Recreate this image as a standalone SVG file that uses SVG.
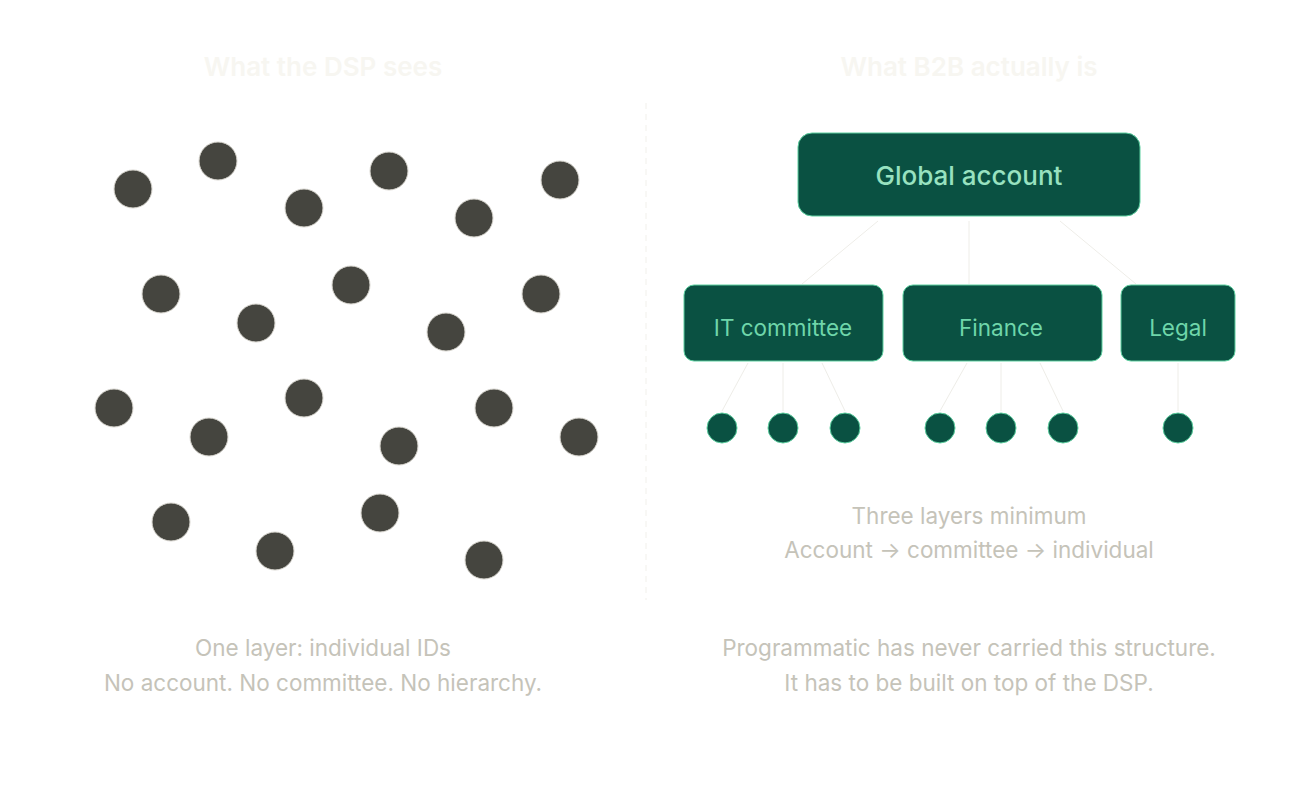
<svg xmlns="http://www.w3.org/2000/svg" width="1292" height="798" viewBox="0 0 1292 798">
<style>
.title{font-family:Inter,"Liberation Sans",sans-serif;font-size:26px;font-weight:600;fill:#f7f6f1;text-anchor:middle}
.cap{font-family:Inter,"Liberation Sans",sans-serif;font-size:22.5px;fill:#c5c3b9;text-anchor:middle}
.id{fill:#45453f;stroke:#d8d6cf;stroke-width:1}
.box{fill:#0a5142;stroke:#5ccf9f;stroke-width:1}
.gtext{font-family:Inter,"Liberation Sans",sans-serif;font-size:26px;font-weight:500;fill:#98e2c0;text-anchor:middle}
.ctext{font-family:Inter,"Liberation Sans",sans-serif;font-size:22.5px;fill:#6fd6aa;text-anchor:middle}
.dot{fill:#0a5142;stroke:#5ccf9f;stroke-width:1}
.link{stroke:#eeede8;stroke-width:1;fill:none}
</style>
<rect width="1292" height="798" fill="#ffffff"/>
<text class="title" x="323" y="76">What the DSP sees</text>
<text class="title" x="969" y="76">What B2B actually is</text>
<line x1="646" y1="103" x2="646" y2="600" stroke="#f1f0eb" stroke-width="1" stroke-dasharray="6 5"/>
<g id="ids">
<circle class="id" cx="133" cy="189" r="19"/>
<circle class="id" cx="218" cy="161" r="19"/>
<circle class="id" cx="304" cy="208" r="19"/>
<circle class="id" cx="389" cy="171" r="19"/>
<circle class="id" cx="474" cy="218" r="19"/>
<circle class="id" cx="560" cy="180" r="19"/>
<circle class="id" cx="161" cy="294" r="19"/>
<circle class="id" cx="256" cy="323" r="19"/>
<circle class="id" cx="351" cy="285" r="19"/>
<circle class="id" cx="446" cy="332" r="19"/>
<circle class="id" cx="541" cy="294" r="19"/>
<circle class="id" cx="114" cy="408" r="19"/>
<circle class="id" cx="209" cy="437" r="19"/>
<circle class="id" cx="304" cy="398" r="19"/>
<circle class="id" cx="399" cy="446" r="19"/>
<circle class="id" cx="494" cy="408" r="19"/>
<circle class="id" cx="579" cy="437" r="19"/>
<circle class="id" cx="171" cy="522" r="19"/>
<circle class="id" cx="275" cy="551" r="19"/>
<circle class="id" cx="380" cy="513" r="19"/>
<circle class="id" cx="484" cy="560" r="19"/>
</g>
<g id="connectors">
<line class="link" x1="878" y1="221" x2="802" y2="284"/>
<line class="link" x1="969" y1="221" x2="969" y2="284"/>
<line class="link" x1="1060" y1="221" x2="1136" y2="284"/>
<line class="link" x1="748" y1="363" x2="722" y2="411"/>
<line class="link" x1="783" y1="363" x2="783" y2="411"/>
<line class="link" x1="822" y1="363" x2="845" y2="411"/>
<line class="link" x1="967" y1="363" x2="940" y2="411"/>
<line class="link" x1="1001" y1="363" x2="1001" y2="411"/>
<line class="link" x1="1040" y1="363" x2="1063" y2="411"/>
<line class="link" x1="1178" y1="363" x2="1178" y2="411"/>
</g>
<g id="global">
<rect class="box" x="798" y="133" width="342" height="83" rx="14"/>
<text class="gtext" x="969" y="185">Global account</text>
</g>
<g id="it">
<rect class="box" x="684" y="285" width="199" height="76" rx="10"/>
<text class="ctext" x="783" y="336">IT committee</text>
</g>
<g id="finance">
<rect class="box" x="903" y="285" width="199" height="76" rx="10"/>
<text class="ctext" x="1001" y="336">Finance</text>
</g>
<g id="legal">
<rect class="box" x="1121" y="285" width="114" height="76" rx="10"/>
<text class="ctext" x="1178" y="336">Legal</text>
</g>
<g id="people">
<circle class="dot" cx="722" cy="428" r="15"/>
<circle class="dot" cx="783" cy="428" r="15"/>
<circle class="dot" cx="845" cy="428" r="15"/>
<circle class="dot" cx="940" cy="428" r="15"/>
<circle class="dot" cx="1001" cy="428" r="15"/>
<circle class="dot" cx="1063" cy="428" r="15"/>
<circle class="dot" cx="1178" cy="428" r="15"/>
</g>
<text class="cap" x="969" y="524">Three layers minimum</text>
<text class="cap" x="969" y="558">Account → committee → individual</text>
<text class="cap" x="323" y="656">One layer: individual IDs</text>
<text class="cap" x="323" y="691">No account. No committee. No hierarchy.</text>
<text class="cap" x="969" y="656">Programmatic has never carried this structure.</text>
<text class="cap" x="969" y="691">It has to be built on top of the DSP.</text>
</svg>
